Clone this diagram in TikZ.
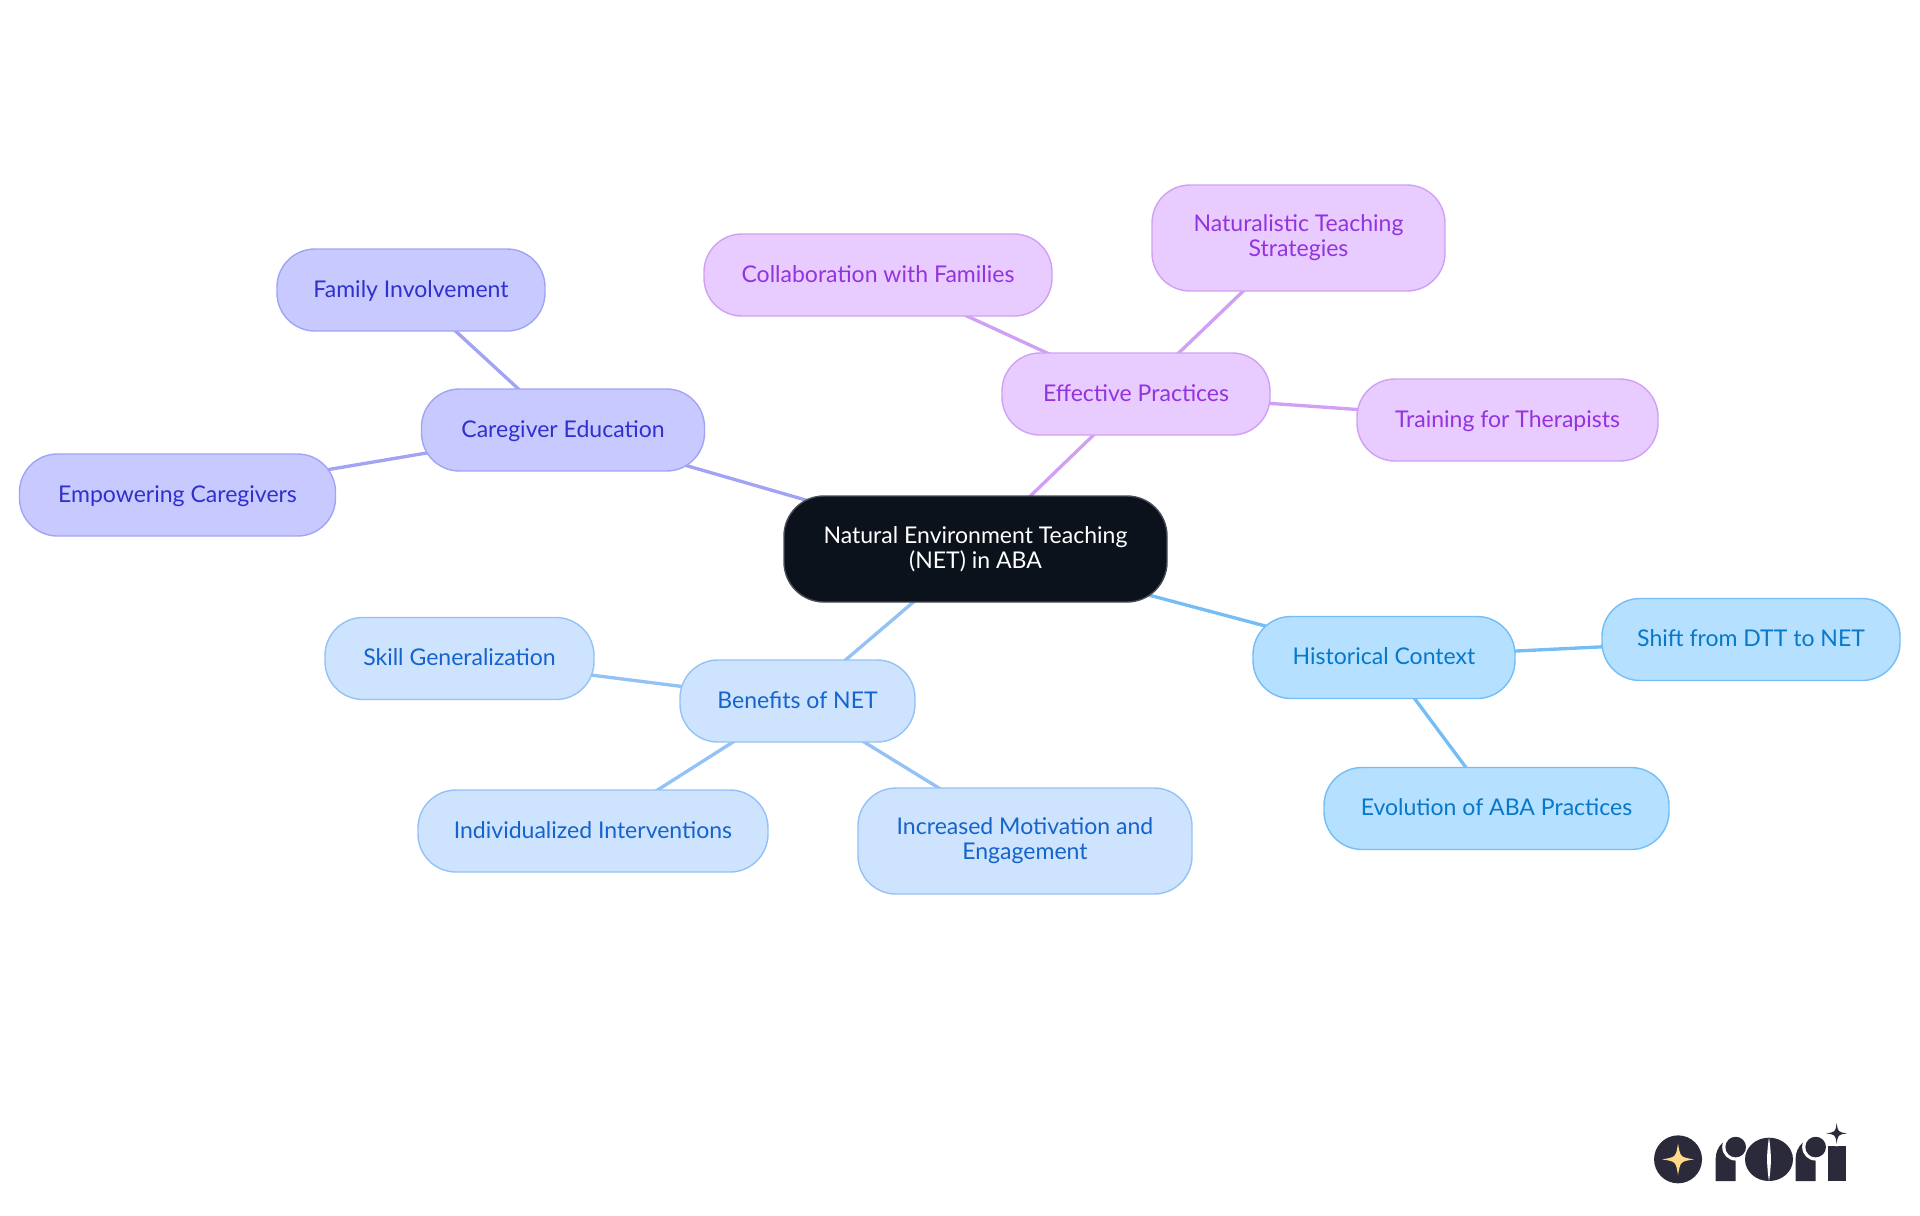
\documentclass[tikz,border=0pt]{standalone}
\usepackage{fontspec}
\setmainfont{Lato}
\usepackage{xcolor}
\usetikzlibrary{positioning,backgrounds}
\definecolor{rootfill}{HTML}{0B121B}
\definecolor{rootline}{HTML}{474C54}
\definecolor{carefill}{HTML}{C8CAFF}
\definecolor{careline}{HTML}{A1A3F5}
\definecolor{caretext}{HTML}{3030CC}
\definecolor{practicefill}{HTML}{E8CBFF}
\definecolor{practiceline}{HTML}{D0A0F5}
\definecolor{practicetext}{HTML}{9333DD}
\definecolor{benefitfill}{HTML}{CEE3FE}
\definecolor{benefitline}{HTML}{94C2F5}
\definecolor{benefittext}{HTML}{1464CC}
\definecolor{historyfill}{HTML}{B5E0FF}
\definecolor{historyline}{HTML}{74BEF5}
\definecolor{historytext}{HTML}{0878C8}
\definecolor{rorifill}{HTML}{2A2A3A}
\definecolor{rorigold}{HTML}{FFD98A}
\tikzset{main node/.style={rounded corners=0.38cm,draw,line width=0.4pt,outer sep=0pt,inner sep=0pt,align=center,minimum height=0.82cm,text height=5.3pt,text depth=1.3pt,font=\fontsize{6.55}{7.1}\selectfont},
two lines/.style={minimum height=1.06cm,text height=,text depth=},
root node/.style={main node,two lines,fill=rootfill,draw=rootline,text=white,minimum width=3.83cm,rounded corners=0.4cm},
care node/.style={main node,fill=carefill,draw=careline,text=caretext},
practice node/.style={main node,fill=practicefill,draw=practiceline,text=practicetext},
benefit node/.style={main node,fill=benefitfill,draw=benefitline,text=benefittext},
history node/.style={main node,fill=historyfill,draw=historyline,text=historytext},
link/.style={line width=0.95pt},}
\newcommand{\roristar}[5]{\fill[#4] (#1,#2-#3) .. controls (#1+#5,#2-#5) .. (#1+#3,#2) .. controls (#1+#5,#2+#5) .. (#1,#2+#3) .. controls (#1-#5,#2+#5) .. (#1-#3,#2) .. controls (#1-#5,#2-#5) .. cycle;}
\begin{document}
\begin{tikzpicture}
	\useasboundingbox (0,0) rectangle (19.2,-12.15);
	\node[root node] (root) at (9.755,-5.49) {Natural Environment Teaching\\(NET) in ABA};

	\node[care node, minimum width=2.83cm] (care) [above = 0.25cm of root, xshift=-4.125cm] {Caregiver Education};
	\node[care node, minimum width=3.16cm] (empower) [left = 0.86cm of care, yshift=-0.65cm] {Empowering Caregivers};
	\node[care node, minimum width=2.68cm] (family) [above = 0.58cm of care, xshift=-1.52cm] {Family Involvement};

	\node[practice node, minimum width=2.68cm] (practice) [above = 0.61cm of root, xshift=1.605cm] {Effective Practices};
	\node[practice node, minimum width=3.48cm] (collab) [above = 0.37cm of practice, xshift=-2.58cm] {Collaboration with Families};
	\node[practice node, two lines, minimum width=2.93cm] (natural) [above = 0.62cm of practice, xshift=1.625cm] {Naturalistic Teaching\\Strategies};
	\node[practice node, minimum width=3.01cm] (training) [right = 0.87cm of practice, yshift=-0.26cm] {Training for Therapists};

	\node[history node, minimum width=2.62cm] (history) [right = 0.86cm of root, yshift=-1.085cm] {Historical Context};
	\node[history node, minimum width=2.98cm] (shift) [right = 0.87cm of history, yshift=0.18cm] {Shift from DTT to NET};
	\node[history node, minimum width=3.45cm] (evolve) [below = 0.69cm of history, xshift=1.125cm] {Evolution of ABA Practices};

	\node[benefit node, minimum width=2.35cm] (benefit) [below = 0.58cm of root, xshift=-1.78cm] {Benefits of NET};
	\node[benefit node, minimum width=2.69cm] (skill) [left = 0.86cm of benefit, yshift=0.425cm] {Skill Generalization};
	\node[benefit node, minimum width=3.50cm] (individual) [below = 0.48cm of benefit, xshift=-2.045cm] {Individualized Interventions};
	\node[benefit node, two lines, minimum width=3.34cm] (motivate) [below = 0.46cm of benefit, xshift=2.275cm] {Increased Motivation and\\Engagement};

	\begin{pgfonlayer}{background}
		\path[draw,link]
		(root.center) edge [careline] (care.center)
		(care.center) edge [careline] (empower.center)
		(care.center) edge [careline] (family.center)
		(root.center) edge [practiceline] (practice.center)
		(practice.center) edge [practiceline] (collab.center)
		(practice.center) edge [practiceline] (natural.center)
		(practice.center) edge [practiceline] (training.center)
		(root.center) edge [historyline] (history.center)
		(history.center) edge [historyline] (shift.center)
		(history.center) edge [historyline] (evolve.center)
		(root.center) edge [benefitline] (benefit.center)
		(benefit.center) edge [benefitline] (skill.center)
		(benefit.center) edge [benefitline] (individual.center)
		(benefit.center) edge [benefitline] (motivate.center);
	\end{pgfonlayer}

	% logo
	\begin{scope}[x=0.01cm,y=-0.01cm]
		\fill[rorifill] (1679,1160) circle (24);
		\roristar{1679}{1160}{16}{rorigold}{2.2}
		\foreach \x in {1716.7,1796.7} {
			\fill[rorifill] (\x,1181.7) -- (\x,1159) arc[start angle=180,end angle=270,radius=21] -- (\x+20,1138) -- (\x+20,1181.7) -- cycle;
			\fill[white] (\x+20,1147.7) circle (13.5);
			\fill[rorifill] (\x+20,1147.7) circle (10.3);
		}
		\fill[rorifill] (1770,1160) ellipse [x radius=24,y radius=21.7];
		\fill[white] (1770,1138) .. controls (1767.5,1155) and (1767.5,1165) .. (1770,1182) .. controls (1772.5,1165) and (1772.5,1155) .. cycle;
		\fill[rorifill] (1829,1146.5) rectangle (1846.7,1181.7);
		\fill[white] (1837.7,1134) circle (13);
		\roristar{1837.7}{1134}{10.5}{rorifill}{1.3}
	\end{scope}
\end{tikzpicture}
\end{document}
